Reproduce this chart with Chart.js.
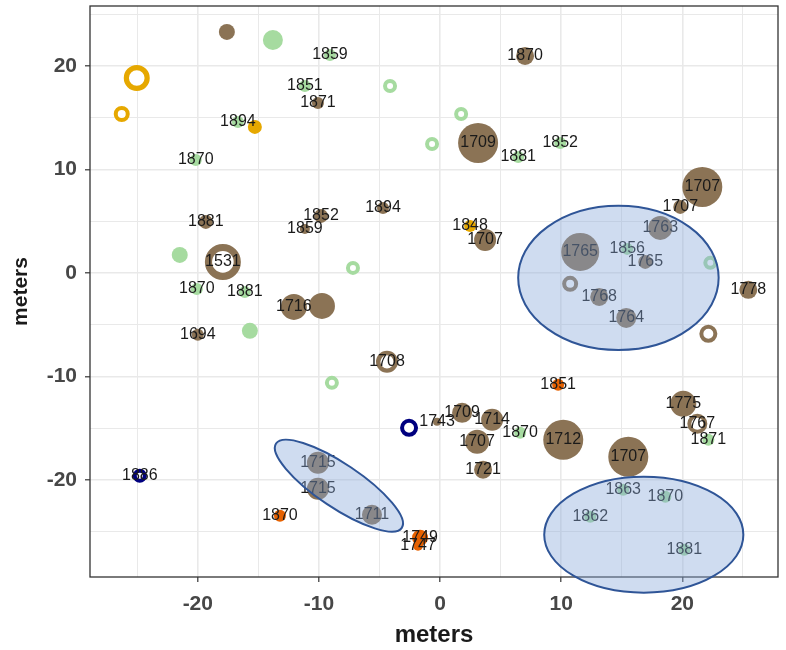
<!DOCTYPE html>
<html>
<head>
<meta charset="utf-8">
<script src="https://cdn.jsdelivr.net/npm/chart.js@4/dist/chart.umd.min.js"></script>
<style>
  html, body { margin: 0; padding: 0; background: #ffffff; }
  canvas { display: block; }
</style>
</head>
<body>
<canvas id="map" width="786" height="650"></canvas>
<script>
// Stem map: position (m), establishment year, size and group of each stem.
const groupColors = ['#8B7355', '#A6DBA0', '#E6A800', '#E66100', '#00007F'];

const pointX = [
  // group 0
  -17.60, 7.02, 3.14, 21.65, 19.83, 18.18, 11.57, 10.74, 13.14, 15.37, 16.94, 25.45, 22.15,
  -19.34, -17.93, -20.00, -12.07, -9.75, -9.83, -11.16, -4.71, 3.72, -4.38, 1.82, 4.30,
  3.06, 3.55, 10.17, 15.54, 20.08, 21.24, -10.08, -10.08, -5.62, -10.08, -0.25,
  // group 1
  -13.80, -9.09, -4.13, 1.74, -0.66, 6.45, 9.92, -11.16, -16.69, -20.17, -21.49, -7.19,
  -20.08, -16.12, -15.70, -8.93, 15.45, 22.31, 6.61, 22.15, 15.12, 18.60, 12.40, 20.17,
  // group 2
  -25.04, -26.28, -15.29, 2.48,
  // group 3
  9.75, -13.22, -1.65, -1.82,
  // group 4
  -24.79, -2.56
];

const pointY = [
  23.29, 20.97, 12.56, 8.31, 6.38, 4.35, 2.03, -1.06, -2.32, -4.35, 1.06, -1.64, -5.89,
  4.93, 1.06, -5.99, -3.29, -3.19, 5.51, 4.25, 6.28, 3.19, -8.60, -13.53, -14.20,
  -16.33, -19.03, -16.14, -17.78, -12.66, -14.59, -18.36, -20.87, -23.38, 16.43, -14.40,
  22.51, 21.06, 18.07, 15.36, 12.46, 11.21, 12.56, 18.07, 14.59, 10.92, 1.74, 0.48,
  -1.55, -1.84, -5.60, -10.63, 2.32, 0.97, -15.46, -16.14, -20.97, -21.64, -23.57, -26.76,
  18.84, 15.36, 14.11, 4.54,
  -10.82, -23.48, -25.60, -26.38,
  -19.61, -14.98
];

const pointYear = [
  '', '1870', '1709', '1707', '1707', '1763', '1765', '', '1768', '1764', '1765', '1778', '',
  '1881', '1531', '1694', '1716', '', '1852', '1859', '1894', '1707', '1708', '1709', '1714',
  '1707', '1721', '1712', '1707', '1775', '1767', '1715', '1715', '1711', '1871', '1743',
  '', '1859', '', '', '', '1881', '1852', '1851', '1894', '1870', '', '',
  '1870', '1881', '', '', '1856', '', '1870', '1871', '1863', '1870', '1862', '1881',
  '', '', '', '1848',
  '1851', '1870', '1749', '1747',
  '1886', ''
];

const pointSize = [
  8, 9, 20, 20, 7, 12, 19, 8, 9, 10, 7, 9, 9,
  7, 18, 6, 13, 13, 7, 5, 6, 11, 11, 10, 11,
  12, 9, 20, 20, 13, 10, 11, 11, 10, 6, 4,
  10, 6, 7, 7, 7, 6, 6, 6, 6, 6, 8, 7,
  6, 6, 8, 7, 6, 7, 6, 6, 6, 6, 6, 6,
  13, 8, 7, 6,
  6, 6, 8, 5,
  7, 9
];

const pointGroup = [
  0,0,0,0,0,0,0,0,0,0,0,0,0, 0,0,0,0,0,0,0,0,0,0,0,0, 0,0,0,0,0,0,0,0,0,0,0,
  1,1,1,1,1,1,1,1,1,1,1,1, 1,1,1,1,1,1,1,1,1,1,1,1,
  2,2,2,2,
  3,3,3,3,
  4,4
];

const pointHollow = [
  0,0,0,0,0,0,0,1,0,0,0,0,1, 0,1,0,0,0,0,0,0,0,1,0,0, 0,0,0,0,0,1,0,0,0,0,0,
  0,0,1,1,1,0,0,0,0,0,0,1, 0,0,0,1,0,1,0,0,0,0,0,0,
  1,1,0,0,
  0,0,0,0,
  1,1
];

// Highlighted clusters: major-axis end points (m) and minor/major ratio.
const clusterA = [[6.45, -0.48], [23.0, -0.48]];
const clusterB = [[-13.54, -16.5], [-3.16, -24.65]];
const clusterC = [[8.60, -25.31], [25.04, -25.31]];
const clusterRatio = [0.72, 0.29, 0.583];

const xTicks = [-25, -20, -15, -10, -5, 0, 5, 10, 15, 20, 25];
const yTicks = [-25, -20, -15, -10, -5, 0, 5, 10, 15, 20, 25];

const FONT = '"Liberation Sans", Arial, Helvetica, sans-serif';
Chart.defaults.font.family = FONT;

function ringWidth(s) { return Math.max(4, s * 0.4); }

const datasets = groupColors.map((col, g) => {
  const data = [];
  pointX.forEach((v, i) => {
    if (pointGroup[i] === g) data.push({ x: v, y: pointY[i], s: pointSize[i], h: pointHollow[i] });
  });
  return {
    data,
    pointRadius: c => c.raw.h ? c.raw.s - ringWidth(c.raw.s) / 2 : c.raw.s,
    pointBorderWidth: c => c.raw.h ? ringWidth(c.raw.s) : 0,
    pointBackgroundColor: c => c.raw.h ? '#ffffff' : col,
    pointBorderColor: col,
    pointHoverRadius: c => c.raw.h ? c.raw.s - ringWidth(c.raw.s) / 2 : c.raw.s,
    showLine: false
  };
});

const isMajor = v => v % 10 === 0;

const panel = {
  id: 'panel',
  beforeDatasetsDraw(chart) {
    const { ctx, chartArea: a } = chart;
    ctx.save();
    ctx.strokeStyle = '#333333';
    ctx.lineWidth = 1.3;
    ctx.strokeRect(a.left, a.top, a.right - a.left, a.bottom - a.top);
    ctx.restore();
  },
  afterDatasetsDraw(chart) {
    const { ctx, scales: { x, y } } = chart;
    ctx.save();
    // year labels
    ctx.font = '16px ' + FONT;
    ctx.fillStyle = '#1a1a1a';
    ctx.textAlign = 'center';
    ctx.textBaseline = 'middle';
    pointYear.forEach((t, i) => {
      if (t) ctx.fillText(t, x.getPixelForValue(pointX[i]), y.getPixelForValue(pointY[i]));
    });
    // cluster outlines
    [clusterA, clusterB, clusterC].forEach((c, k) => {
      const x1 = x.getPixelForValue(c[0][0]), y1 = y.getPixelForValue(c[0][1]);
      const x2 = x.getPixelForValue(c[1][0]), y2 = y.getPixelForValue(c[1][1]);
      const rx = Math.hypot(x2 - x1, y2 - y1) / 2;
      const ry = rx * clusterRatio[k];
      const rot = Math.atan2(y2 - y1, x2 - x1);
      ctx.beginPath();
      ctx.ellipse((x1 + x2) / 2, (y1 + y2) / 2, rx, ry, rot, 0, Math.PI * 2);
      ctx.fillStyle = 'rgba(135,167,217,0.4)';
      ctx.fill();
      ctx.lineWidth = 2;
      ctx.strokeStyle = '#2F5597';
      ctx.stroke();
    });
    ctx.restore();
  }
};

function axisOptions(min, max, ticks, horizontal) {
  return {
    type: 'linear',
    min, max,
    afterBuildTicks: s => { s.ticks = ticks.map(v => ({ value: v })); },
    afterFit: s => {
      if (horizontal) s.height = 73; else s.width = 90;
      s.paddingLeft = 0; s.paddingRight = 0; s.paddingTop = 0; s.paddingBottom = 0;
    },
    border: { display: false },
    grid: {
      color: '#e9e9e9',
      lineWidth: c => (c.tick && isMajor(c.tick.value)) ? 1.6 : 1,
      drawTicks: true,
      tickLength: 5,
      tickWidth: 1.2,
      tickColor: c => (c.tick && isMajor(c.tick.value)) ? '#333333' : 'rgba(0,0,0,0)'
    },
    ticks: {
      autoSkip: false,
      maxRotation: 0,
      padding: horizontal ? 10 : 8,
      color: '#474747',
      font: { size: 21, weight: 'bold' },
      callback: v => isMajor(v) ? String(v) : ''
    },
    title: {
      display: true,
      text: 'meters',
      color: '#1a1a1a',
      font: { size: horizontal ? 24 : 21, weight: 'bold' },
      padding: horizontal ? { top: 0, bottom: 0 } : { top: 9, bottom: 0 }
    }
  };
}

new Chart(document.getElementById('map'), {
  type: 'scatter',
  data: { datasets },
  options: {
    responsive: false,
    animation: false,
    events: [],
    layout: { autoPadding: false, padding: { top: 6, right: 8, left: 0, bottom: 0 } },
    plugins: { legend: { display: false }, tooltip: { enabled: false } },
    scales: {
      x: axisOptions(-28.9, 27.9, xTicks, true),
      y: axisOptions(-29.4, 25.8, yTicks, false)
    }
  },
  plugins: [panel]
});
</script>
</body>
</html>
